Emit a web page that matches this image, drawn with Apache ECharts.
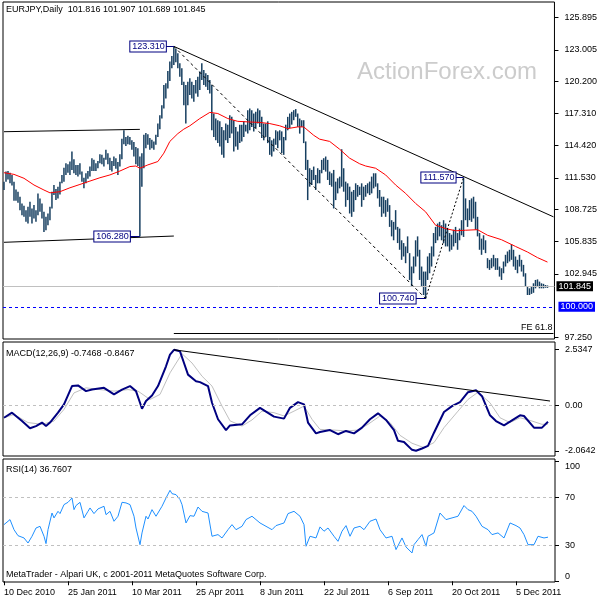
<!DOCTYPE html>
<html><head><meta charset="utf-8">
<script src="https://cdn.jsdelivr.net/npm/echarts@6/dist/echarts.min.js"></script>
<style>html,body{margin:0;padding:0;background:#fff}#c{width:600px;height:600px}</style>
</head><body><div id="c"></div>
<script>
// ---- DATA ----
const highs = [
111.2,112.1,112.15,112.0,111.8,111.2,110.5,110.3,109.85,109.25,
109.05,108.65,108.95,109.4,108.8,109.1,108.65,110.15,109.7,109.25,
108.5,108.05,108.35,108.95,110.3,110.9,110.55,110.75,111.2,111.8,
112.45,112.85,112.75,113.0,113.9,113.2,112.7,112.7,112.85,112.1,
111.55,111.95,112.15,112.55,113.3,113.15,112.85,113.05,113.65,113.6,
113.35,114.05,113.75,113.35,113.05,113.45,113.3,112.95,113.65,115.05,
115.8,115.2,115.3,115.2,114.9,114.75,114.3,114.2,113.45,113.75,
115.4,115.55,115.45,115.1,114.95,114.8,115.4,116.4,117.15,118.05,
119.85,120.0,121.1,121.95,122.45,123.31,123.1,122.7,121.8,121.35,
120.15,119.85,120.15,120.45,120.15,119.85,120.3,120.6,121.05,121.8,
121.2,120.9,120.75,120.3,119.85,117.3,116.85,116.7,116.6,116.1,
115.8,116.4,116.3,117.15,117.0,116.7,116.1,115.7,116.3,116.3,
116.6,116.3,117.6,117.75,117.6,117.3,117.45,117.75,117.6,117.0,
116.4,116.4,116.6,115.2,114.9,115.05,115.8,115.7,115.8,115.7,
115.2,116.3,117.0,117.3,117.45,117.6,117.7,117.3,116.85,116.7,
116.7,114.8,113.15,112.4,112.25,112.55,111.8,112.4,112.25,113.15,
113.3,113.45,113.15,112.1,111.95,112.25,111.2,111.5,111.65,114.1,
112.4,111.2,111.05,110.75,110.3,110.45,111.05,110.9,110.75,111.05,
110.75,110.9,111.05,111.2,111.65,111.95,111.95,111.05,110.45,109.85,
109.85,109.55,109.7,109.1,107.75,107.6,108.65,107.15,107.0,105.95,
105.7,105.4,106.3,104.8,103.6,104.5,105.95,106.3,105.1,103.6,
103.15,103.15,104.5,104.8,105.4,106.6,107.15,107.45,107.6,107.3,
107.75,107.45,107.0,106.6,106.45,106.9,107.15,106.6,107.0,107.75,
111.57,109.7,108.8,109.55,109.7,109.85,109.4,108.05,106.6,106.1,
106.4,105.95,104.35,104.2,104.35,104.65,104.35,104.35,103.6,103.45,
104.05,104.65,104.95,105.1,105.6,105.1,104.5,104.2,104.65,104.2,
103.75,103.0,101.8,101.65,101.8,102.1,102.4,102.45,102.25,102.1,
102.05,101.95,101.907];
const lows = [
110.45,111.2,111.4,111.05,110.85,109.5,109.5,109.3,108.65,108.2,
108.05,107.6,107.45,108.05,107.45,107.9,107.6,108.2,108.5,107.9,
106.7,106.85,107.3,107.75,108.8,110.0,109.55,109.7,110.05,111.05,
111.2,111.8,112.0,111.8,112.25,111.95,111.8,111.65,111.85,111.2,
110.6,111.05,111.45,111.65,112.15,112.15,112.15,112.4,112.85,112.75,
112.55,113.15,112.75,112.25,112.1,112.6,112.35,111.8,112.55,113.2,
114.55,114.4,114.55,114.5,114.05,113.45,112.75,112.6,106.28,110.75,
112.4,114.2,114.5,114.05,114.2,114.05,114.5,115.2,115.9,116.85,
117.75,118.65,119.55,120.2,121.35,121.65,121.9,121.35,120.6,119.85,
118.05,116.4,118.05,118.95,118.65,118.35,119.1,118.8,119.4,120.3,
119.85,119.7,119.4,119.1,115.8,115.2,114.9,114.65,114.35,113.6,
113.35,114.9,114.65,115.1,115.5,113.9,114.35,114.05,114.65,114.8,
115.2,115.7,115.5,115.8,116.1,115.7,116.0,116.4,116.1,115.1,
114.9,115.2,114.65,113.6,113.45,113.9,114.5,114.2,114.9,113.75,
113.6,114.9,115.8,116.0,116.3,116.7,117.0,116.1,115.5,116.1,
114.65,112.25,109.55,110.75,110.9,111.35,110.45,111.05,111.05,111.95,
112.25,112.1,111.35,110.9,110.75,108.8,109.55,110.15,110.6,110.75,
110.3,108.95,109.55,108.35,108.05,108.5,109.55,109.85,110.0,108.95,
109.55,109.85,110.15,110.0,110.15,110.6,110.75,109.7,108.95,108.05,
108.35,108.05,108.5,107.15,106.3,105.95,106.9,105.7,105.1,104.2,
104.5,103.9,104.8,102.4,101.8,103.0,103.6,104.5,102.4,101.8,
101.05,100.74,102.4,103.0,103.6,104.5,105.7,105.95,106.3,105.95,
105.7,105.4,105.4,104.95,105.1,105.4,105.7,105.1,105.95,106.4,
106.25,107.75,107.15,107.75,107.6,107.9,106.9,106.3,105.1,104.65,
105.1,104.8,103.45,103.3,103.45,103.6,103.3,103.3,102.7,102.4,
103.0,103.6,103.9,104.05,104.2,103.6,103.3,103.0,103.6,103.15,
102.7,101.8,101.05,101.05,101.15,101.25,101.65,101.8,101.65,101.65,
101.65,101.7,101.689];
// moving average [bar index, value]
const maPoints = [[0,112.0],[5,111.85],[10,111.5],[15,110.9],[20,110.45],[23,110.2],[28,110.3],[33,110.65],[38,110.95],[43,111.25],[48,111.55],[53,111.8],[58,112.15],[63,112.55],[66,112.6],[68,112.4],[72,112.7],[77,113.0],[80,113.75],[83,114.8],[87,115.5],[90,115.9],[93,116.2],[98,116.85],[103,117.4],[107,117.3],[112,116.85],[117,116.6],[122,116.55],[128,116.5],[133,116.4],[138,116.2],[142,115.95],[147,116.1],[150,116.1],[155,115.35],[158,115.0],[163,114.8],[168,114.1],[173,113.3],[178,112.8],[181,112.6],[186,112.4],[191,111.8],[196,110.9],[201,110.15],[206,109.25],[211,108.5],[216,107.3],[221,107.0],[226,106.8],[231,106.85],[237,106.9],[242,106.4],[249,106.0],[256,105.4],[262,104.9],[267,104.4],[272,104.0]];
const macdMain = [[0,-0.56],[4,-0.33],[9,-0.71],[13,-1.04],[16,-0.94],[19,-0.78],[21,-0.94],[23,-0.78],[27,-0.33],[30,0.05],[34,0.88],[37,0.91],[41,0.65],[44,0.72],[50,0.80],[55,0.50],[59,0.72],[63,0.88],[66,0.65],[68,0.12],[69,-0.15],[71,0.2],[74,0.45],[77,0.88],[81,1.78],[83,2.31],[85,2.53],[88,2.46],[90,1.93],[92,1.40],[96,1.10],[98,1.06],[102,0.88],[104,0.12],[107,-0.63],[111,-1.12],[113,-0.91],[119,-0.86],[123,-0.45],[128,-0.11],[135,-0.51],[140,-0.60],[143,-0.11],[147,0.15],[150,0.05],[152,-0.78],[156,-1.27],[158,-1.21],[163,-1.12],[167,-1.31],[171,-1.16],[175,-1.27],[179,-1.01],[183,-0.63],[187,-0.36],[191,-0.66],[195,-1.12],[197,-1.61],[200,-1.66],[204,-2.02],[206,-2.06],[209,-1.96],[212,-1.84],[215,-1.24],[220,-0.30],[224,-0.03],[228,0.15],[232,0.60],[236,0.69],[239,0.42],[243,-0.45],[246,-0.71],[250,-0.91],[253,-0.74],[258,-0.45],[260,-0.48],[265,-1.01],[269,-1.01],[272,-0.7468]];
const macdSignal = [[0,-0.56],[5,-0.41],[12,-0.78],[19,-0.86],[25,-0.71],[30,-0.18],[35,0.57],[41,0.80],[48,0.72],[55,0.65],[62,0.72],[67,0.65],[73,0.27],[78,0.50],[83,1.48],[89,2.35],[94,1.93],[99,1.33],[104,0.88],[109,-0.03],[113,-0.70],[119,-0.94],[124,-0.66],[129,-0.26],[135,-0.33],[140,-0.48],[145,-0.26],[150,-0.03],[154,-0.63],[158,-1.09],[165,-1.12],[171,-1.16],[177,-1.12],[182,-0.86],[188,-0.48],[193,-0.78],[198,-1.36],[204,-1.72],[210,-1.92],[215,-1.69],[220,-1.01],[227,-0.26],[232,0.27],[237,0.60],[243,0.12],[248,-0.56],[253,-0.78],[258,-0.56],[264,-0.71],[269,-0.86],[272,-0.8467]];
const rsiPoints = [[0,47.2],[3,51.4],[5,43.0],[7,38.0],[10,36.1],[12,31.9],[14,37.5],[16,44.4],[18,45.8],[20,37.5],[21,31.4],[22,43.0],[24,56.9],[25,52.8],[27,58.3],[28,56.4],[30,63.9],[32,65.8],[34,69.4],[35,59.7],[36,63.1],[38,65.8],[40,52.8],[42,58.3],[43,61.1],[45,56.4],[47,60.3],[50,62.5],[51,55.5],[53,58.3],[55,50.0],[57,54.2],[59,65.8],[61,65.3],[63,63.9],[65,54.2],[66,44.4],[68,30.5],[69,40.3],[71,54.2],[72,51.9],[74,59.7],[76,54.2],[79,62.5],[81,69.4],[83,75.8],[84,73.0],[86,72.2],[88,68.1],[89,63.9],[91,48.6],[93,54.7],[95,54.2],[97,61.9],[99,58.3],[102,56.9],[104,37.5],[107,38.9],[109,36.1],[112,43.0],[114,47.2],[116,43.0],[119,45.8],[121,51.4],[124,54.2],[126,51.4],[128,48.6],[131,45.8],[134,43.0],[136,46.4],[140,48.6],[142,56.4],[145,58.3],[148,54.2],[150,47.2],[151,29.2],[153,37.5],[156,36.1],[158,45.3],[160,41.7],[162,44.4],[165,37.5],[167,33.3],[169,41.7],[171,46.4],[173,37.5],[175,44.4],[178,45.8],[180,43.0],[183,50.0],[186,51.9],[188,43.0],[191,36.1],[194,37.5],[196,26.4],[199,36.1],[201,28.6],[204,23.6],[205,30.5],[207,34.7],[209,38.9],[211,29.2],[212,37.5],[215,40.3],[218,56.9],[219,55.5],[221,51.4],[224,52.8],[227,54.2],[230,63.1],[232,59.7],[234,58.3],[236,54.2],[239,45.8],[242,43.0],[244,38.9],[247,40.3],[250,36.1],[253,48.6],[256,46.4],[258,44.4],[260,38.9],[262,30.5],[265,30.5],[267,37.5],[270,36.1],[272,36.7607]];
const priceTicks = [125.895,123.005,120.2,117.31,114.42,111.53,108.725,105.835,102.945,97.25];
const macdTicks = [2.5347,0,-2.0642];
const rsiTicks = [0,30,70,100];
const rsiLevels = [70,30];
const xTickLabels = ['10 Dec 2010','25 Jan 2011','10 Mar 2011','25 Apr 2011','8 Jun 2011','22 Jul 2011','6 Sep 2011','20 Oct 2011','5 Dec 2011'];
const barsPerXLabel = 32;
const emptyBarsRight = 3;
const lastPrice = 101.845;
const roundLevel = 100.0;
// pivots: [bar index, price, label-box index]
const pivotHigh = [85,123.31,81];
const pivotLow = [211,100.74,206];
const pivotHigh2 = [230,111.57,226];
const quakeLow = [68,106.28,63];
const fe618 = 97.62;
const upperRange = [[0,115.67],[68,115.88]];
const lowerRange = [[0,105.77],[85,106.33]];
const mainTrendEnd = [275,108.05];
const macdTrend = [[85,2.53],[273,0.20]];

// ---- CHART ----
const F = 'Liberation Sans, Arial, sans-serif';
const N = highs.length;
const cats = Array.from({length: N + emptyBarsRight}, (_, i) => String(i));
const bars = highs.map((h, i) => [i, h, lows[i]]);
const fmtPivot = v => v.toFixed(3);

function boxLabel(text) {
  return {show:true, position:'start', distance:0, formatter:text, color:'#000080', fontSize:9, fontFamily:F,
    backgroundColor:'#fff', borderColor:'#000080', borderWidth:1, padding:[1,1,0,2]};
}
function pivotLine(p) {
  return [{coord:[p[2], p[1]], lineStyle:{color:'#000080', width:1, type:'solid'}, label:boxLabel(fmtPivot(p[1]))},
          {coord:[p[0], p[1]]}];
}
const noLabel = {show:false};

const xBase = {type:'category', data:cats, boundaryGap:true, axisLine:{show:false}, axisTick:{show:false}, axisLabel:{show:false}, splitLine:{show:false}};
const xLabelShow = i => i % barsPerXLabel === 0 && i / barsPerXLabel < xTickLabels.length;

const option = {
  backgroundColor:'#fff',
  animation:false,
  title:[
    {text:'EURJPY,Daily  101.816 101.907 101.689 101.845', left:6, top:5, padding:0, textStyle:{fontSize:9, fontWeight:'normal', color:'#000', fontFamily:F}},
    {text:'MACD(12,26,9) -0.7468 -0.8467', left:6, top:349, padding:0, textStyle:{fontSize:9, fontWeight:'normal', color:'#000', fontFamily:F}},
    {text:'RSI(14) 36.7607', left:6, top:465, padding:0, textStyle:{fontSize:9, fontWeight:'normal', color:'#000', fontFamily:F}},
    {text:'MetaTrader - Alpari UK, c 2001-2011 MetaQuotes Software Corp.', left:6, top:570, padding:0, textStyle:{fontSize:9, fontWeight:'normal', color:'#000', fontFamily:F}}
  ],
  graphic:[{type:'text', left:357, top:60, z:0, silent:true, style:{text:'ActionForex.com', fontSize:24, fill:'#cccccc', fontFamily:F}}],
  grid:[
    {left:3, top:2, width:552, height:337, show:true, borderColor:'#000', borderWidth:1, backgroundColor:'transparent'},
    {left:3, top:342, width:552, height:114, show:true, borderColor:'#000', borderWidth:1},
    {left:3, top:459, width:552, height:123, show:true, borderColor:'#000', borderWidth:1}
  ],
  xAxis:[
    Object.assign({gridIndex:0}, xBase),
    Object.assign({gridIndex:1}, xBase),
    Object.assign({}, xBase, {gridIndex:2,
      axisTick:{show:true, interval:(i)=>xLabelShow(i), alignWithLabel:true, length:4, lineStyle:{color:'#000'}},
      axisLabel:{show:true, interval:(i)=>xLabelShow(i), formatter:(v,i)=>xTickLabels[i/barsPerXLabel] || '', align:'left', margin:6, fontSize:9, color:'#000', fontFamily:F}
    })
  ],
  yAxis:[
    {gridIndex:0, type:'value', position:'right', min:97.113, max:127.283, splitLine:{show:false}, axisLine:{show:false},
      axisTick:{show:true, customValues:priceTicks, length:4, lineStyle:{color:'#000'}},
      axisLabel:{customValues:priceTicks, formatter:v=>v.toFixed(3), fontSize:9, color:'#000', fontFamily:F, margin:10}},
    {gridIndex:1, type:'value', position:'right', min:-2.300, max:2.884, splitLine:{show:false}, axisLine:{show:false},
      axisTick:{show:true, customValues:macdTicks, length:4, lineStyle:{color:'#000'}},
      axisLabel:{customValues:macdTicks, formatter:v=> v===0 ? '0.00' : v.toFixed(4), fontSize:9, color:'#000', fontFamily:F, margin:10}},
    {gridIndex:2, type:'value', position:'right', min:-0.6, max:101.9, splitLine:{show:false}, axisLine:{show:false},
      axisTick:{show:true, customValues:rsiTicks, length:4, lineStyle:{color:'#000'}},
      axisLabel:{customValues:rsiTicks, formatter:v=> v===100 ? '{t|100}' : (v===0 ? '{b|0}' : String(v)), fontSize:9, color:'#000', fontFamily:F, margin:10,
        rich:{t:{fontSize:9, fontFamily:F, color:'#000', padding:[10,0,0,0]}, b:{fontSize:9, fontFamily:F, color:'#000', padding:[0,0,10,0]}}}}
  ],
  series:[
    {type:'line', xAxisIndex:0, yAxisIndex:0, data:[], z:1, silent:true,
      markLine:{silent:true, symbol:'none', animation:false, data:[
        {yAxis:lastPrice, lineStyle:{color:'#c0c0c0', width:1, type:'solid'},
          label:{show:true, position:'end', distance:2, formatter:lastPrice.toFixed(3), color:'#fff', backgroundColor:'#000', padding:[1,2,0,2], fontSize:9, fontFamily:F}},
        {yAxis:roundLevel, lineStyle:{color:'#0000ff', width:1, type:[3,3]},
          label:{show:true, position:'end', distance:4, formatter:roundLevel.toFixed(3), color:'#fff', backgroundColor:'#0000ff', padding:[1,2,0,2], fontSize:9, fontFamily:F}}
      ]}},
    {type:'custom', name:'bars', xAxisIndex:0, yAxisIndex:0, z:2, silent:true, data:bars,
      encode:{x:0, y:[1,2]},
      renderItem:(params, api) => {
        const i = api.value(0);
        const p1 = api.coord([i, api.value(1)]);
        const p2 = api.coord([i, api.value(2)]);
        return {type:'line', shape:{x1:p1[0], y1:p1[1], x2:p1[0], y2:p2[1]}, style:{stroke:'#173f60', lineWidth:1.5}};
      }},
    {type:'line', name:'MA', xAxisIndex:0, yAxisIndex:0, z:4, data:maPoints, showSymbol:false, smooth:false,
      lineStyle:{color:'#ff0000', width:1}, silent:true,
      markLine:{silent:true, symbol:'none', animation:false, label:noLabel, data:[
        [{coord:upperRange[0], lineStyle:{color:'#000', width:1, type:'solid'}}, {coord:upperRange[1]}],
        [{coord:lowerRange[0], lineStyle:{color:'#000', width:1, type:'solid'}}, {coord:lowerRange[1]}],
        [{coord:[pivotHigh[0], pivotHigh[1]], lineStyle:{color:'#000', width:1, type:'solid'}}, {coord:mainTrendEnd}],
        [{coord:[pivotHigh[0], pivotHigh[1]], lineStyle:{color:'#000', width:1, type:[3,3]}}, {coord:[pivotLow[0], pivotLow[1]]}],
        [{coord:[pivotLow[0], pivotLow[1]], lineStyle:{color:'#000', width:1, type:[2,2]}}, {coord:[pivotHigh2[0], pivotHigh2[1]]}],
        [{coord:[pivotHigh[0], fe618], lineStyle:{color:'#000', width:1, type:'solid'},
          label:{show:true, position:'insideEndTop', distance:1, formatter:'FE 61.8', color:'#000', fontSize:9, fontFamily:F}},
         {coord:[N - 1 + emptyBarsRight, fe618]}],
        pivotLine(pivotHigh), pivotLine(quakeLow), pivotLine(pivotHigh2), pivotLine(pivotLow)
      ]}},
    {type:'line', name:'MACD', xAxisIndex:1, yAxisIndex:1, z:3, data:macdMain, showSymbol:false,
      lineStyle:{color:'#000080', width:2}, silent:true,
      markLine:{silent:true, symbol:'none', animation:false, label:noLabel, data:[
        {yAxis:0, lineStyle:{color:'#c0c0c0', width:1, type:[3,3]}},
        [{coord:macdTrend[0], lineStyle:{color:'#000', width:1, type:'solid'}}, {coord:macdTrend[1]}]
      ]}},
    {type:'line', name:'Signal', xAxisIndex:1, yAxisIndex:1, z:2, data:macdSignal, showSymbol:false,
      lineStyle:{color:'#c0c0c0', width:1}, silent:true},
    {type:'line', name:'RSI', xAxisIndex:2, yAxisIndex:2, z:3, data:rsiPoints, showSymbol:false,
      lineStyle:{color:'#1e90ff', width:1}, silent:true,
      markLine:{silent:true, symbol:'none', animation:false, label:noLabel,
        data:rsiLevels.map(v => ({yAxis:v, lineStyle:{color:'#c0c0c0', width:1, type:[3,3]}}))}}
  ]
};
const chart = echarts.init(document.getElementById('c'), null, {renderer:'canvas'});
chart.setOption(option);
</script></body></html>
